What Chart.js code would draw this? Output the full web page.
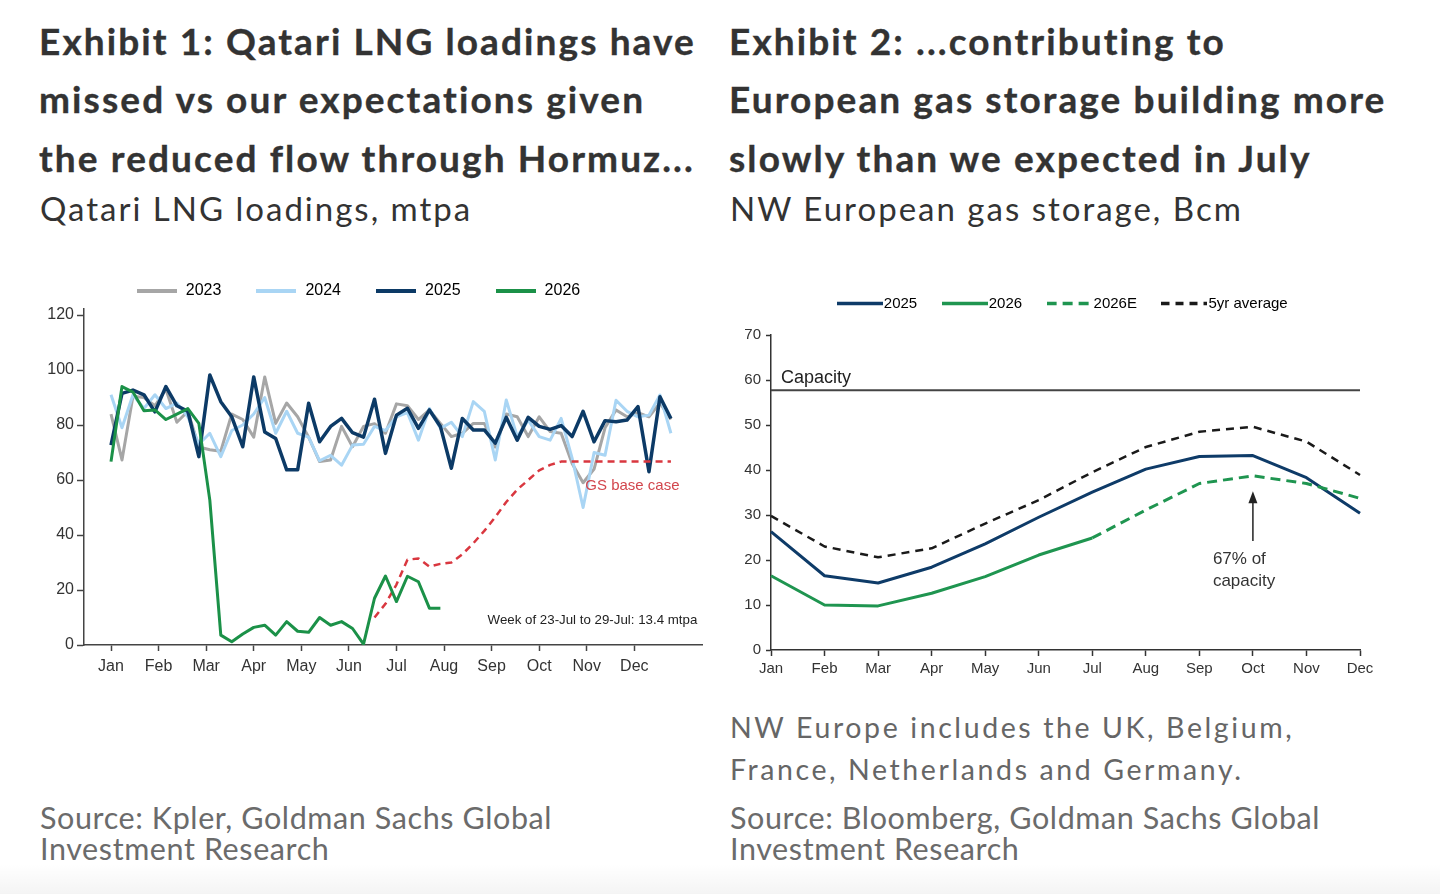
<!DOCTYPE html>
<html>
<head>
<meta charset="utf-8">
<script src="https://cdn.jsdelivr.net/npm/chart.js@4.4.1/dist/chart.umd.min.js"></script>
<style>
  html, body { margin: 0; padding: 0; background: #fff; }
  body { width: 1440px; height: 894px; position: relative; overflow: hidden; font-family: Lato, sans-serif; }
  .title { position: absolute; top: 12px; font-weight: 700; font-size: 37px; line-height: 58.3px; color: #333;
           letter-spacing: 2.1px; -webkit-text-stroke: 0.35px #333; white-space: nowrap; }
  .sub { position: absolute; top: 190px; font-size: 33px; line-height: 37px; color: #333; letter-spacing: 2px; white-space: nowrap; }
  .note { position: absolute; top: 706px; font-size: 28.5px; line-height: 42px; color: #666; letter-spacing: 2.6px; white-space: nowrap; }
  .src { position: absolute; top: 802px; font-size: 30.5px; line-height: 31px; color: #6b6b6b; letter-spacing: 0.6px; white-space: nowrap; }
  canvas { position: absolute; }
  .shade { position: absolute; left: 0; right: 0; bottom: 0; height: 30px;
           background: linear-gradient(to bottom, rgba(0,0,0,0), rgba(0,0,0,0.045)); }
</style>
</head>
<body>

<div class="title" style="left:39px">Exhibit 1: Qatari LNG loadings have<br>missed vs our expectations given<br>the reduced flow through Hormuz...</div>
<div class="sub" style="left:40px">Qatari LNG loadings, mtpa</div>

<div class="title" style="left:729px">Exhibit 2: ...contributing to<br>European gas storage building more<br>slowly than we expected in July</div>
<div class="sub" style="left:730px">NW European gas storage, Bcm</div>

<canvas id="lng" width="690" height="436" style="left:14px; top:249px"></canvas>
<canvas id="storage" width="680" height="425" style="left:725px; top:265px"></canvas>

<div class="note" style="left:730px">NW Europe includes the UK, Belgium,<br>France, Netherlands and Germany.</div>
<div class="src" style="left:40px">Source: Kpler, Goldman Sachs Global<br>Investment Research</div>
<div class="src" style="left:730px">Source: Bloomberg, Goldman Sachs Global<br>Investment Research</div>
<div class="shade"></div>

<script>
// ---- Exhibit 1: weekly Qatari LNG loadings (mtpa) ----
const months = ['Jan', 'Feb', 'Mar', 'Apr', 'May', 'Jun', 'Jul', 'Aug', 'Sep', 'Oct', 'Nov', 'Dec'];
const weekNo = Array.from({ length: 52 }, (_, i) => i + 1);

const lng2023 = [84, 67.3, 90.5, 90, 87, 93, 81, 85, 72, 71, 70.5, 84, 82, 75.6, 97.5, 80.6, 88, 83, 75.6, 66.7,
  67.3, 79.5, 72.1, 79.5, 80.5, 77, 87.7, 87, 82, 85.5, 80.6, 75.8, 77, 80.6, 80.6, 72, 84, 83, 75.8, 83,
  77.6, 77, 66, 59, 64, 79, 85.5, 83, 84.5, 83, 88, 82];
const lng2024 = [91, 79, 91, 86, 91, 86, 88, 83, 73, 77, 68.5, 78, 80, 84, 90, 77, 85, 77, 75.6, 67,
  69, 65.4, 72.7, 73, 79.5, 78, 83, 84.5, 74.5, 86, 78.8, 81, 75.8, 88.5, 85, 67.3, 89.1, 75.8, 81.8, 75.8,
  74.5, 82.4, 68, 50, 70, 69, 89, 85, 83, 83.6, 90.9, 77];
const lng2025 = [72.7, 91.5, 92.7, 91, 84.8, 94, 87, 85, 68.5, 98.2, 88.5, 83, 72.1, 97.5, 77.5, 75.1, 63.7, 63.7, 87.9, 73.9,
  79.5, 82.4, 77.2, 75.6, 89.4, 69.7, 83.6, 86.1, 78.8, 85.5, 79.5, 64.3, 82.4, 78.2, 78.2, 73.4, 82.8, 74.5, 82.8, 79.5,
  78.4, 79.8, 75.8, 85, 73.9, 81.6, 81.2, 81.8, 86.7, 63, 90.3, 82.4];
const lng2026 = [66.7, 94, 92, 85.2, 85.5, 82, 84, 86, 80.6, 52.7, 3.6, 1.2, 4, 6.4, 7.2, 3.6, 8.5, 5, 4.6, 10,
  7.2, 8.5, 6, 0.3, 17, 25.1, 15.8, 25, 23, 13.4, 13.4];
// GS base case starts in week 25
const baseStart = 24;
const baseCase = [10, 15, 22, 31, 31.5, 28.5, 29.5, 30, 33, 37, 41.5, 46.5, 52, 56.5, 60, 63.5, 65.5, 66.7,
  66.7, 66.7, 66.7, 66.7, 66.7, 66.7, 66.7, 66.7, 66.7, 66.7];

// ---- Exhibit 2: NW European gas storage (Bcm) ----
const st2025 = [26.3, 16.5, 14.9, 18.4, 23.6, 29.5, 35.1, 40.2, 43.0, 43.2, 38.3, 30.4];
const st2026 = [16.5, 10.0, 9.8, 12.6, 16.3, 21.1, 24.9, null, null, null, null, null];
const st2026E = [null, null, null, null, null, null, 24.9, 31.1, 37.0, 38.7, 37.0, 33.7];
const st5yr = [29.8, 23.0, 20.6, 22.6, 28.1, 33.3, 39.5, 45.1, 48.5, 49.6, 46.3, 38.9];
const capacity = 57.7;

const axisFont = "'Liberation Sans', Arial, sans-serif";
Chart.defaults.font.family = axisFont;
Chart.defaults.color = '#333';
Chart.defaults.animation = false;

// legend swatch drawn as a small canvas so the line can run right up to the label
function swatch(color, dash, len, thick) {
  const c = document.createElement('canvas');
  c.width = len;
  c.height = thick + 2;
  const g = c.getContext('2d');
  g.strokeStyle = color;
  g.lineWidth = thick;
  g.setLineDash(dash || []);
  g.beginPath();
  g.moveTo(0, c.height / 2);
  g.lineTo(len, c.height / 2);
  g.stroke();
  return c;
}

function legendItems(len, thick) {
  return chart => chart.data.datasets
    .map((ds, i) => ({
      text: ds.label,
      datasetIndex: i,
      hidden: false,
      lineWidth: 0,
      fillStyle: ds.borderColor,
      strokeStyle: ds.borderColor,
      pointStyle: swatch(ds.borderColor, ds.borderDash, len, thick)
    }))
    .filter(item => !chart.data.datasets[item.datasetIndex].noLegend);
}

const lngNotes = {
  id: 'lngNotes',
  afterDatasetsDraw(chart) {
    const { ctx, scales: { x, y } } = chart;
    ctx.save();
    ctx.textBaseline = 'middle';
    ctx.font = '15px ' + axisFont;
    ctx.fillStyle = '#d2464d';
    ctx.fillText('GS base case', x.getPixelForValue(44.2), y.getPixelForValue(57.8));
    ctx.font = '13.3px ' + axisFont;
    ctx.fillStyle = '#222';
    ctx.textAlign = 'right';
    ctx.fillText('Week of 23-Jul to 29-Jul: 13.4 mtpa', x.getPixelForValue(54.4), y.getPixelForValue(9.1));
    ctx.restore();
  }
};

new Chart(document.getElementById('lng'), {
  type: 'line',
  data: {
    labels: weekNo,
    datasets: [
      { label: '2023', data: lng2023, borderColor: '#a6a6a6', borderWidth: 3, order: 4 },
      { label: '2024', data: lng2024, borderColor: '#a9d5f4', borderWidth: 3, order: 3 },
      { label: '2025', data: lng2025, borderColor: '#0c3a66', borderWidth: 3.5, order: 2 },
      { label: '2026', data: lng2026, borderColor: '#1b9148', borderWidth: 3, order: 0 },
      { label: 'GS base case', data: Array(baseStart).fill(null).concat(baseCase), borderColor: '#d9373f',
        borderWidth: 2.5, borderDash: [7, 5], order: 1, noLegend: true }
    ]
  },
  options: {
    responsive: false,
    layout: { padding: { left: 0, right: 2, top: 0, bottom: 0 } },
    elements: { point: { radius: 0 }, line: { tension: 0, borderJoinStyle: 'round' } },
    plugins: {
      tooltip: { enabled: false },
      legend: {
        position: 'top',
        labels: {
          usePointStyle: true, pointStyleWidth: 42, padding: 34,
          font: { size: 16 }, color: '#333',
          generateLabels: legendItems(40, 4)
        }
      }
    },
    scales: {
      x: {
        type: 'linear', min: -1.46, max: 54.83,
        afterBuildTicks: s => { s.ticks = months.map((m, i) => ({ value: 1 + i * 52 / 12 })); },
        afterFit: s => { s.height = 40; },
        ticks: { callback: (v, i) => months[i], font: { size: 16 }, color: '#333', padding: 6, maxRotation: 0, autoSkip: false },
        grid: { drawOnChartArea: false, drawTicks: true, tickLength: 6, color: '#444', tickWidth: 1.5 },
        border: { color: '#444', width: 1.5 }
      },
      y: {
        min: 0, max: 122.2,
        afterFit: s => { s.width = 70; },
        ticks: { stepSize: 20, includeBounds: false, font: { size: 16 }, color: '#333', padding: 3 },
        grid: { drawOnChartArea: false, drawTicks: true, tickLength: 7, color: '#444', tickWidth: 1.5 },
        border: { color: '#444', width: 1.5 }
      }
    }
  },
  plugins: [lngNotes]
});

const storageNotes = {
  id: 'storageNotes',
  afterDatasetsDraw(chart) {
    const { ctx, scales: { x, y } } = chart;
    const oct = x.getPixelForValue(9);
    const tail = y.getPixelForValue(24.2);
    const tip = y.getPixelForValue(35.3);
    ctx.save();
    ctx.fillStyle = '#222';
    ctx.strokeStyle = '#222';
    ctx.lineWidth = 1.5;
    ctx.beginPath();
    ctx.moveTo(oct, tail);
    ctx.lineTo(oct, tip + 8);
    ctx.stroke();
    ctx.beginPath();
    ctx.moveTo(oct, tip);
    ctx.lineTo(oct - 4.5, tip + 12);
    ctx.lineTo(oct + 4.5, tip + 12);
    ctx.closePath();
    ctx.fill();
    ctx.textBaseline = 'middle';
    ctx.font = '17px ' + axisFont;
    ctx.fillStyle = '#333';
    ctx.fillText('67% of', oct - 40, y.getPixelForValue(20.2));
    ctx.fillText('capacity', oct - 40, y.getPixelForValue(15.3));
    ctx.font = '18px ' + axisFont;
    ctx.fillStyle = '#222';
    ctx.fillText('Capacity', x.getPixelForValue(0) + 10, y.getPixelForValue(60.4));
    ctx.restore();
  }
};

new Chart(document.getElementById('storage'), {
  type: 'line',
  data: {
    labels: months,
    datasets: [
      { label: '2025', data: st2025, borderColor: '#0e3b68', borderWidth: 3, order: 2 },
      { label: '2026', data: st2026, borderColor: '#1f9550', borderWidth: 3, order: 1 },
      { label: '2026E', data: st2026E, borderColor: '#1f9550', borderWidth: 3, borderDash: [10, 6], order: 1 },
      { label: '5yr average', data: st5yr, borderColor: '#1a1a1a', borderWidth: 2.5, borderDash: [8, 6], order: 3 },
      { label: 'Capacity', data: months.map(() => capacity), borderColor: '#444', borderWidth: 2, order: 4, noLegend: true }
    ]
  },
  options: {
    responsive: false,
    layout: { padding: { left: 0, right: 45, top: 0, bottom: 0 } },
    elements: { point: { radius: 0 }, line: { tension: 0, borderJoinStyle: 'round' } },
    plugins: {
      tooltip: { enabled: false },
      legend: {
        position: 'top',
        fullSize: false,
        labels: {
          usePointStyle: true, pointStyleWidth: 33, padding: 31,
          font: { size: 15 }, color: '#333',
          generateLabels: legendItems(46, 3.5)
        }
      }
    },
    scales: {
      x: {
        offset: false,
        afterFit: s => { s.height = 40; },
        ticks: { font: { size: 15 }, color: '#333', padding: 4, maxRotation: 0, autoSkip: false },
        grid: { drawOnChartArea: false, drawTicks: true, tickLength: 6, color: '#333', tickWidth: 1.5 },
        border: { color: '#333', width: 1.5 }
      },
      gap: {
        type: 'linear', position: 'top', display: true,
        afterFit: s => { s.height = 14; },
        ticks: { display: false },
        grid: { display: false },
        border: { display: false }
      },
      y: {
        min: 0, max: 70,
        afterFit: s => { s.width = 46; },
        ticks: { stepSize: 10, font: { size: 15 }, color: '#333', padding: 5 },
        grid: { drawOnChartArea: false, drawTicks: true, tickLength: 5, color: '#333', tickWidth: 1.5 },
        border: { color: '#333', width: 1.5 }
      }
    }
  },
  plugins: [storageNotes]
});
</script>
</body>
</html>
